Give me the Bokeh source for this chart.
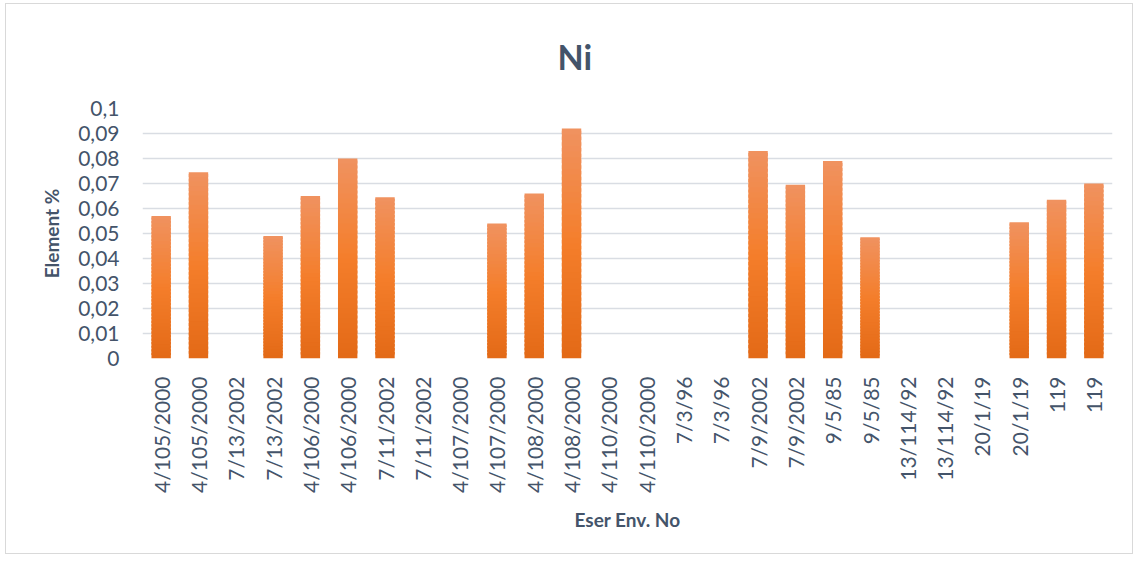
from bokeh.plotting import figure
from bokeh.models import ColumnDataSource, FixedTicker, CustomJSTickFormatter, Range1d
from bokeh.embed import file_html
from bokeh.resources import INLINE
import math

categories = ["4/105/2000", "4/105/2000", "7/13/2002", "7/13/2002", "4/106/2000", "4/106/2000",
              "7/11/2002", "7/11/2002", "4/107/2000", "4/107/2000", "4/108/2000", "4/108/2000",
              "4/110/2000", "4/110/2000", "7/3/96", "7/3/96", "7/9/2002", "7/9/2002",
              "9/5/85", "9/5/85", "13/114/92", "13/114/92", "20/1/19", "20/1/19", "119", "119"]
ni_values = [0.057, 0.0745, 0, 0.049, 0.065, 0.080, 0.0645, 0, 0, 0.054, 0.066, 0.092, 0, 0,
             0, 0, 0.083, 0.0695, 0.079, 0.0485, 0, 0, 0, 0.0545, 0.0635, 0.070]
y_ticks = [0, 0.01, 0.02, 0.03, 0.04, 0.05, 0.06, 0.07, 0.08, 0.09, 0.1]

FONT = "Lato"
TXT = "#44546A"

# gradient stops (fraction of bar height from bottom -> colour)
stops = [(0.0, (0xE3, 0x69, 0x16)), (0.5, (0xF4, 0x7E, 0x2B)), (1.0, (0xF0, 0x92, 0x60))]

def grad(f):
    for (f0, c0), (f1, c1) in zip(stops[:-1], stops[1:]):
        if f0 <= f <= f1:
            t = (f - f0) / (f1 - f0)
            return "#%02x%02x%02x" % tuple(int(round(a + (b - a) * t)) for a, b in zip(c0, c1))
    return "#%02x%02x%02x" % stops[-1][1]

N = 40
xs, bottoms, tops, colors = [], [], [], []
for i, v in enumerate(ni_values):
    if v <= 0:
        continue
    for k in range(N):
        xs.append(i)
        bottoms.append(v * k / N)
        tops.append(v * min(k + 1.6, N) / N)
        colors.append(grad((k + 0.5) / N))
src = ColumnDataSource(dict(x=xs, bottom=bottoms, top=tops, color=colors))

p = figure(width=1128, height=551, output_backend="svg", toolbar_location=None,
           x_range=Range1d(-0.5, len(categories) - 0.5), y_range=Range1d(0, 0.1),
           min_border_left=136, min_border_right=22, min_border_top=104, min_border_bottom=197)
p.styles = {"border": "1px solid #D9D9D9", "margin-left": "5px", "margin-top": "3px"}

p.vbar(x="x", bottom="bottom", top="top", width=0.52, fill_color="color", line_color=None,
       source=src)

p.title.text = "Ni"
p.title.align = "left"
p.title.vertical_align = "top"
p.title.text_font = FONT
p.title.text_font_size = "34px"
p.title.text_font_style = "bold"
p.title.text_color = TXT
p.title.offset = 415
p.title.standoff = 60

p.outline_line_color = None
p.background_fill_color = "white"
p.border_fill_color = "white"

p.xgrid.grid_line_color = None
p.ygrid.grid_line_color = "#D9DDE3"
p.ygrid.grid_line_width = 1.5
p.ygrid.ticker = FixedTicker(ticks=y_ticks)

p.yaxis.ticker = FixedTicker(ticks=y_ticks)
p.yaxis.formatter = CustomJSTickFormatter(code="return (Math.round(tick*100)/100).toString().replace('.', ',');")
p.xaxis.ticker = FixedTicker(ticks=list(range(len(categories))))
p.xaxis.major_label_overrides = {i: c for i, c in enumerate(categories)}
p.xaxis.major_label_orientation = math.pi / 2

for ax in (p.xaxis[0], p.yaxis[0]):
    ax.axis_line_color = None
    ax.major_tick_line_color = None
    ax.minor_tick_line_color = None
    ax.major_tick_out = 0
    ax.major_tick_in = 0
    ax.minor_tick_out = 0
    ax.minor_tick_in = 0
    ax.major_label_text_font = FONT
    ax.major_label_text_font_size = "21px"
    ax.major_label_text_color = TXT
    ax.axis_label_text_font = FONT
    ax.axis_label_text_font_size = "19px"
    ax.axis_label_text_font_style = "bold"
    ax.axis_label_text_color = TXT

p.yaxis.axis_label = "Element %"
p.yaxis.major_label_standoff = 23
p.yaxis.axis_label_standoff = 12
p.xaxis.axis_label = "Eser Env. No"
p.xaxis.major_label_standoff = 18
p.xaxis.axis_label_standoff = 12

open("out.html", "w").write(file_html(p, INLINE))
